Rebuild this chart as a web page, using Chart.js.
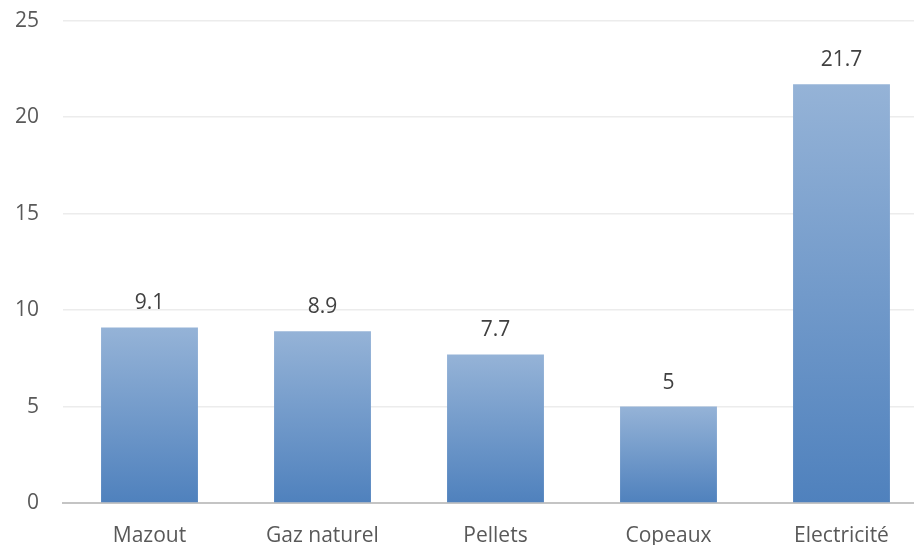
<!DOCTYPE html>
<html>
<head>
<meta charset="utf-8">
<script src="https://cdn.jsdelivr.net/npm/chart.js@4.4.1/dist/chart.umd.min.js"></script>
<style>
  html, body { margin: 0; padding: 0; background: #fff; overflow: hidden; }
  #wrap { width: 914px; height: 545px; overflow: hidden; position: relative; }
  /* plot area runs past the right edge and the top is trimmed */
  #myChart { position: absolute; left: 0; top: -16px; }
</style>
</head>
<body>
<div id="wrap"><canvas id="myChart" width="928" height="561"></canvas></div>
<script>
var categories = ["Mazout", "Gaz naturel", "Pellets", "Copeaux", "Electricité"];
var values = [9.1, 8.9, 7.7, 5, 21.7];
var yTicks = [0, 5, 10, 15, 20, 25];

var FONT = "'Open Sans', sans-serif";
var TEXT = '#595959';

// each bar gets its own light-to-dark vertical gradient
function barGradient(context) {
  var chart = context.chart;
  if (!chart.chartArea) return '#7399c6';
  var yScale = chart.scales.y;
  var v = context.raw;
  var top = yScale.getPixelForValue(v);
  var bottom = yScale.getPixelForValue(0);
  if (!isFinite(top) || top === bottom) return '#7399c6';
  var g = chart.ctx.createLinearGradient(0, top, 0, bottom);
  g.addColorStop(0, '#95b3d7');
  g.addColorStop(1, '#4f81bd');
  return g;
}

var valueLabels = {
  id: 'valueLabels',
  afterDatasetsDraw: function(chart) {
    var ctx = chart.ctx;
    var meta = chart.getDatasetMeta(0);
    ctx.save();
    ctx.font = '21px ' + FONT;
    ctx.fillStyle = '#404040';
    ctx.textAlign = 'center';
    ctx.textBaseline = 'alphabetic';
    meta.data.forEach(function(bar, i) {
      ctx.fillText(String(values[i]), bar.x, bar.y - 18);
    });
    ctx.restore();
  }
};

var ctx = document.getElementById('myChart');
new Chart(ctx, {
  type: 'bar',
  data: {
    labels: categories,
    datasets: [{
      data: values,
      backgroundColor: barGradient,
      borderWidth: 0,
      barPercentage: 0.56,
      categoryPercentage: 1
    }]
  },
  options: {
    responsive: false,
    animation: false,
    layout: { padding: 0 },
    plugins: {
      legend: { display: false },
      tooltip: { enabled: false }
    },
    scales: {
      x: {
        grid: { display: false, drawTicks: false },
        border: { color: '#c4c4c4', width: 2 },
        ticks: { color: TEXT, font: { family: FONT, size: 21 }, padding: 20 },
        afterFit: function(scale) { scale.height = 42; }
      },
      y: {
        min: 0,
        max: 25,
        afterBuildTicks: function(scale) {
          scale.ticks = yTicks.map(function(v) { return { value: v }; });
        },
        grid: { color: '#ececec', lineWidth: 1.5, drawTicks: false },
        border: { display: false },
        ticks: { color: TEXT, font: { family: FONT, size: 21 }, padding: 24 },
        afterFit: function(scale) { scale.width = 63; }
      }
    }
  },
  plugins: [valueLabels]
});
</script>
</body>
</html>
